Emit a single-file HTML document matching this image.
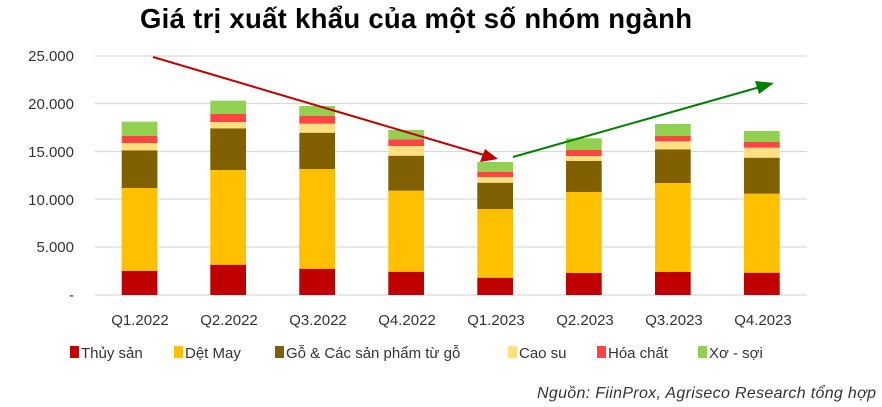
<!DOCTYPE html>
<html><head><meta charset="utf-8"><style>body{margin:0;background:#fff}svg{display:block;font-family:"Liberation Sans",sans-serif}</style></head><body>
<svg width="882" height="407" viewBox="0 0 882 407">
<text x="416" y="28" text-anchor="middle" font-size="27.5" font-weight="bold" fill="#000" textLength="552">Giá trị xuất khẩu của một số nhóm ngành</text>
<g stroke="#d9d9d9" stroke-width="1.3">
<line x1="95" x2="807" y1="56" y2="56"/><line x1="95" x2="807" y1="103.5" y2="103.5"/><line x1="95" x2="807" y1="151.5" y2="151.5"/><line x1="95" x2="807" y1="199" y2="199"/><line x1="95" x2="807" y1="247" y2="247"/><line x1="95" x2="807" y1="295" y2="295"/>
</g>
<g font-size="15" fill="#333" text-anchor="end">
<text x="74" y="61">25.000</text><text x="74" y="109">20.000</text><text x="74" y="157">15.000</text><text x="74" y="205">10.000</text><text x="74" y="252">5.000</text><text x="74" y="300">-</text>
</g>
<g>
<rect x="121.7" y="271" width="35.7" height="24" fill="#c00000"/><rect x="121.7" y="188" width="35.7" height="83" fill="#ffc000"/><rect x="121.7" y="150.3" width="35.7" height="37.7" fill="#806000"/><rect x="121.7" y="143" width="35.7" height="7.3" fill="#ffe080"/><rect x="121.7" y="135.7" width="35.7" height="7.3" fill="#ff4444"/><rect x="121.7" y="121.7" width="35.7" height="14" fill="#92d050"/>
<rect x="210.3" y="264.7" width="35.7" height="30.3" fill="#c00000"/><rect x="210.3" y="170" width="35.7" height="94.7" fill="#ffc000"/><rect x="210.3" y="128.3" width="35.7" height="41.7" fill="#806000"/><rect x="210.3" y="122" width="35.7" height="6.3" fill="#ffe080"/><rect x="210.3" y="114" width="35.7" height="8" fill="#ff4444"/><rect x="210.3" y="100.7" width="35.7" height="13.3" fill="#92d050"/>
<rect x="299.3" y="268.7" width="35.7" height="26.3" fill="#c00000"/><rect x="299.3" y="169" width="35.7" height="99.7" fill="#ffc000"/><rect x="299.3" y="132.7" width="35.7" height="36.3" fill="#806000"/><rect x="299.3" y="123.7" width="35.7" height="9" fill="#ffe080"/><rect x="299.3" y="115.7" width="35.7" height="8" fill="#ff4444"/><rect x="299.3" y="106" width="35.7" height="9.7" fill="#92d050"/>
<rect x="388.3" y="271.7" width="35.7" height="23.3" fill="#c00000"/><rect x="388.3" y="190.7" width="35.7" height="81" fill="#ffc000"/><rect x="388.3" y="155.7" width="35.7" height="35" fill="#806000"/><rect x="388.3" y="146" width="35.7" height="9.7" fill="#ffe080"/><rect x="388.3" y="139.3" width="35.7" height="6.7" fill="#ff4444"/><rect x="388.3" y="130" width="35.7" height="9.3" fill="#92d050"/>
<rect x="477.3" y="277.7" width="35.7" height="17.3" fill="#c00000"/><rect x="477.3" y="209" width="35.7" height="68.7" fill="#ffc000"/><rect x="477.3" y="182.7" width="35.7" height="26.3" fill="#806000"/><rect x="477.3" y="177" width="35.7" height="5.7" fill="#ffe080"/><rect x="477.3" y="171.7" width="35.7" height="5.3" fill="#ff4444"/><rect x="477.3" y="162" width="35.7" height="9.7" fill="#92d050"/>
<rect x="566" y="273" width="35.7" height="22" fill="#c00000"/><rect x="566" y="192" width="35.7" height="81" fill="#ffc000"/><rect x="566" y="161" width="35.7" height="31" fill="#806000"/><rect x="566" y="156" width="35.7" height="5" fill="#ffe080"/><rect x="566" y="150" width="35.7" height="6" fill="#ff4444"/><rect x="566" y="138.3" width="35.7" height="11.7" fill="#92d050"/>
<rect x="655" y="272" width="35.7" height="23" fill="#c00000"/><rect x="655" y="183" width="35.7" height="89" fill="#ffc000"/><rect x="655" y="149.3" width="35.7" height="33.7" fill="#806000"/><rect x="655" y="141.3" width="35.7" height="8" fill="#ffe080"/><rect x="655" y="136" width="35.7" height="5.3" fill="#ff4444"/><rect x="655" y="124" width="35.7" height="12" fill="#92d050"/>
<rect x="744" y="272.7" width="35.7" height="22.3" fill="#c00000"/><rect x="744" y="193.7" width="35.7" height="79" fill="#ffc000"/><rect x="744" y="157.7" width="35.7" height="36" fill="#806000"/><rect x="744" y="147.7" width="35.7" height="10" fill="#ffe080"/><rect x="744" y="142" width="35.7" height="5.7" fill="#ff4444"/><rect x="744" y="131" width="35.7" height="11" fill="#92d050"/>
</g>
<g font-size="15" fill="#333" text-anchor="middle">
<text x="140" y="325">Q1.2022</text><text x="229" y="325">Q2.2022</text><text x="318" y="325">Q3.2022</text><text x="407" y="325">Q4.2022</text><text x="496" y="325">Q1.2023</text><text x="585" y="325">Q2.2023</text><text x="674" y="325">Q3.2023</text><text x="763" y="325">Q4.2023</text>
</g>
<g font-size="15" fill="#333">
<rect x="70" y="346" width="9" height="12" fill="#c00000"/><text x="81" y="358">Thủy sản</text>
<rect x="174" y="346" width="9" height="12" fill="#ffc000"/><text x="185" y="358">Dệt May</text>
<rect x="275" y="346" width="9" height="12" fill="#806000"/><text x="286" y="358">Gỗ &amp; Các sản phẩm từ gỗ</text>
<rect x="508" y="346" width="9" height="12" fill="#ffe080"/><text x="519" y="358">Cao su</text>
<rect x="597" y="346" width="9" height="12" fill="#ff4444"/><text x="608" y="358">Hóa chất</text>
<rect x="698" y="346" width="9" height="12" fill="#92d050"/><text x="709" y="358">Xơ - sợi</text>
</g>
<text x="876" y="398" text-anchor="end" font-size="16" font-style="italic" fill="#333" textLength="339">Nguồn: FiinProx, Agriseco Research tổng hợp</text>
<line x1="153" y1="57" x2="484" y2="155" stroke="#c00000" stroke-width="2"/>
<polygon points="498,159 480,162 485,149" fill="#c00000"/>
<line x1="513" y1="157" x2="760" y2="87" stroke="#008000" stroke-width="2"/>
<polygon points="774,83 759,94 755,81" fill="#008000"/>
</svg>
</body></html>
